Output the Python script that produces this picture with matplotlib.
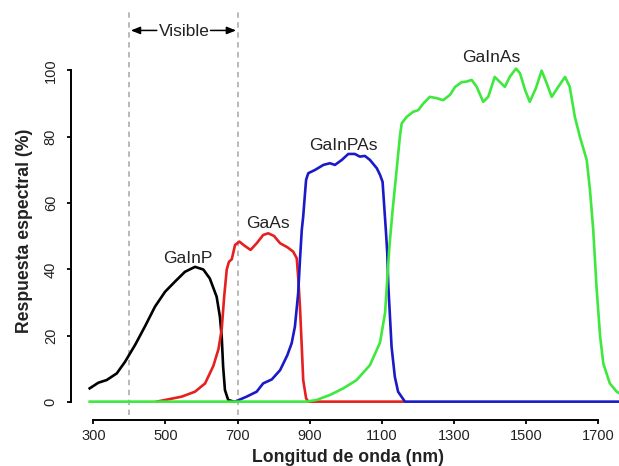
import matplotlib
matplotlib.use("Agg")
import matplotlib.pyplot as plt

plt.rcParams['font.family'] = ['Liberation Sans', 'DejaVu Sans']

# Spectral response curves (wavelength in nm, response in %)
gainp_wl = [290, 314, 337, 365, 388, 416, 443, 471, 499, 526, 554, 582, 605, 623,
            642, 651, 656, 660, 665, 674, 690]
gainp_val = [4.2, 5.9, 6.7, 8.7, 12.2, 17.3, 22.8, 28.8, 33.3, 36.3, 39.3, 40.8, 40.0, 37.3,
             31.8, 25.8, 19.8, 10.7, 3.7, 0.7, 0.2]

gaas_wl = [476, 545, 582, 610, 633, 647, 656, 663, 670, 676, 684, 693, 705, 720, 736, 753,
           771, 785, 801, 818, 838, 854, 864, 868, 873, 878, 882, 890, 896, 1160]
gaas_val = [0.2, 1.7, 3.2, 5.7, 11.0, 16.0, 22.0, 32.0, 40.0, 42.3, 43.1, 47.4, 48.4, 47.1, 45.9, 47.9,
            50.4, 50.9, 50.1, 47.9, 46.7, 45.4, 43.4, 37.8, 28.8, 16.7, 6.7, 1.2, 0.2, 0.2]

gainpas_wl = [697, 725, 753, 771, 795, 818, 838, 850, 859, 868, 873, 878, 882, 887, 890, 896,
              915, 938, 956, 970, 989, 1007, 1025, 1039, 1053, 1067, 1086, 1095, 1102, 1106,
              1111, 1115, 1118, 1127, 1136, 1145, 1164, 1770]
gainpas_val = [0.4, 1.7, 3.2, 5.7, 6.9, 9.7, 14.2, 17.8, 22.8, 32.8, 42.9, 51.9, 56.0, 63.0, 67.0, 69.0,
               70.0, 71.5, 72.0, 71.5, 73.0, 74.8, 74.8, 74.0, 74.2, 73.0, 70.5, 68.5, 66.4, 60.0,
               52.0, 45.0, 35.0, 16.7, 7.7, 3.2, 0.2, 0.2]

gainas_wl = [290, 891, 919, 956, 993, 1030, 1067, 1095, 1109, 1115, 1121, 1130, 1141, 1150,
             1155, 1169, 1187, 1201, 1215, 1233, 1252, 1270, 1289, 1303, 1321, 1335, 1349,
             1363, 1381, 1395, 1413, 1441, 1455, 1472, 1483, 1497, 1510, 1527, 1543, 1557,
             1571, 1589, 1608, 1621, 1635, 1649, 1668, 1677, 1686, 1695, 1705, 1714, 1732,
             1751, 1770]
gainas_val = [0.2, 0.2, 0.7, 2.2, 4.2, 6.7, 11.2, 18.0, 27.0, 37.0, 47.0, 58.0, 70.0, 80.0,
              84.0, 86.0, 87.5, 88.0, 90.0, 92.0, 91.6, 91.0, 92.6, 95.0, 96.4, 96.6, 97.1,
              95.0, 90.5, 92.0, 98.0, 95.0, 98.1, 100.5, 99.1, 94.1, 90.5, 94.6, 99.9, 96.1,
              92.0, 95.0, 98.0, 95.0, 86.0, 80.0, 73.0, 64.0, 52.0, 35.0, 20.0, 11.7, 5.7,
              3.2, 2.0]

curves = [
    (gainp_wl, gainp_val, "black"),
    (gaas_wl, gaas_val, "#e5201e"),
    (gainpas_wl, gainpas_val, "#1a1ac8"),
    (gainas_wl, gainas_val, "#3ee83e"),
]

labels = ["GaInP", "GaAs", "GaInPAs", "GaInAs"]
label_x = [561, 783, 994, 1404]
label_y = [41.9, 52.4, 76.0, 102.4]

x_ticks = [300, 500, 700, 900, 1100, 1300, 1500, 1700]
y_ticks = [0, 20, 40, 60, 80, 100]
visible_band = [400, 700]

W, H = 619, 466
fig = plt.figure(figsize=(W / 100, H / 100), dpi=100)
ax = fig.add_axes([71 / W, 46 / H, 548 / W, 363 / H])
ax.set_xlim(238.2, 1757.5)
ax.set_ylim(-5.33, 104.0)

text_col = "#222222"

# visible band limits
for xv in visible_band:
    ax.plot([xv, xv], [-3.8, 118], color="#b3b3b3", lw=1.3, ls=(0, (3, 2.5)),
            clip_on=False, zorder=1)

for wl, val, col in curves:
    ax.plot(wl, val, color=col, lw=1.9, solid_joinstyle="round", zorder=2)

for name, lx, ly in zip(labels, label_x, label_y):
    ax.text(lx, ly, name, ha="center", va="baseline", fontsize=12.5, color=text_col,
            clip_on=False)

# "Visible" marker with arrows to both band edges
ax.text(552, 110.4, "Visible", ha="center", va="baseline", fontsize=12.5,
        color=text_col, clip_on=False)
arrow_kw = dict(arrowstyle="-|>,head_length=0.55,head_width=0.22", color="black",
                lw=1.1, shrinkA=0, shrinkB=0)
ax.annotate("", xy=(visible_band[0] + 4, 112), xytext=(476, 112),
            arrowprops=arrow_kw, annotation_clip=False)
ax.annotate("", xy=(visible_band[1] - 4, 112), xytext=(625, 112),
            arrowprops=arrow_kw, annotation_clip=False)

for s in ["top", "right"]:
    ax.spines[s].set_visible(False)
ax.spines["left"].set_bounds(0, 100)
ax.spines["bottom"].set_bounds(300, 1700)
for s in ["left", "bottom"]:
    ax.spines[s].set_linewidth(1.4)

ax.set_xticks(x_ticks)
ax.set_yticks(y_ticks)
ax.set_xticklabels([str(v) for v in x_ticks])
ax.set_yticklabels([str(v) for v in y_ticks], rotation=90, va="center")
ax.tick_params(axis="both", direction="out", length=3, width=1.3,
               labelsize=10.5, labelcolor=text_col)
ax.tick_params(axis="x", pad=3.5)
ax.tick_params(axis="y", pad=6.5)

fig.text(347.5 / W, 1 - 458 / H, "Longitud de onda (nm)", ha="center", va="center",
         fontsize=12.7, fontweight="bold", color=text_col)
fig.text(25 / W, 1 - 231 / H, "Respuesta espectral (%)", ha="center", va="center",
         rotation=90, fontsize=12.7, fontweight="bold", color=text_col)

fig.savefig("out.png", dpi=100)
